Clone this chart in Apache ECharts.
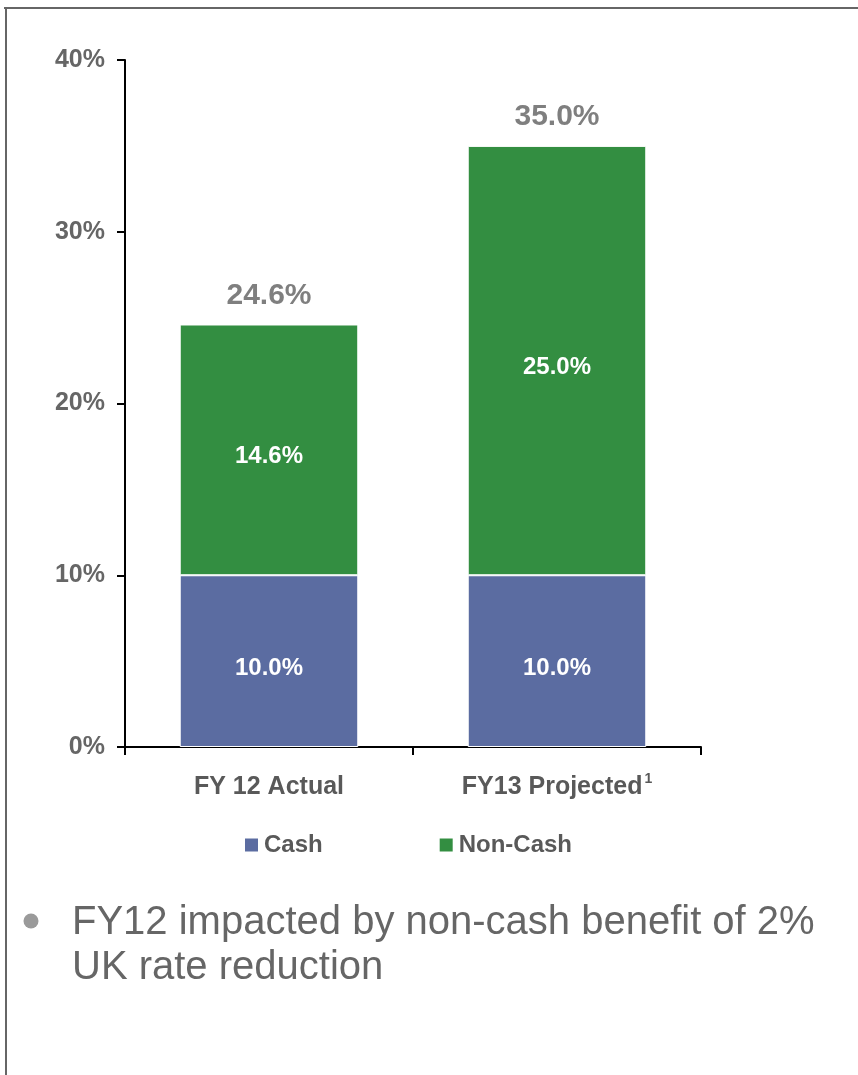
<!DOCTYPE html>
<html>
<head>
<meta charset="utf-8">
<script src="https://cdn.jsdelivr.net/npm/echarts@6/dist/echarts.min.js"></script>
<style>
html,body{margin:0;padding:0;background:#fff;}
#chart{width:858px;height:1075px;}
</style>
</head>
<body>
<div id="chart"></div>
<script>
var categories = ['FY 12 Actual', 'FY13 Projected'];
var cashValues = [10.0, 10.0];
var nonCashValues = [14.6, 25.0];
var yTicks = [0, 10, 20, 30, 40];
var seriesNames = ['Cash', 'Non-Cash'];
var bulletLines = ['FY12 impacted by non-cash benefit of 2%', 'UK rate reduction'];

var totals = categories.map(function (c, i) { return +(cashValues[i] + nonCashValues[i]).toFixed(1); });

var chart = echarts.init(document.getElementById('chart'), null, {renderer: 'canvas'});
var FONT = '"Liberation Sans", Arial, sans-serif';

var option = {
  animation: false,
  backgroundColor: '#ffffff',
  grid: {left: 125, right: 157, top: 60, bottom: 328, containLabel: false},
  legend: {
    data: seriesNames,
    left: 243, top: 833, padding: 0,
    itemWidth: 15, itemHeight: 15, itemGap: 115,
    icon: 'rect',
    textStyle: {fontFamily: FONT, fontSize: 24, fontWeight: 'bold', color: '#595959'}
  },
  xAxis: {
    type: 'category',
    data: categories,
    axisLine: {lineStyle: {color: '#000', width: 2}},
    axisTick: {show: true, length: 8, lineStyle: {color: '#000', width: 2}, alignWithLabel: false},
    axisLabel: {
      interval: 0,
      margin: 25,
      lineHeight: 30,
      fontFamily: FONT, fontSize: 25, fontWeight: 'bold', color: '#595959',
      formatter: function (v, i) { return i === 1 ? '{m|' + v + '}{sup|1}' : '{m|' + v + '}'; },
      rich: {
        m: {fontFamily: FONT, fontSize: 25, fontWeight: 'bold', color: '#595959', lineHeight: 30},
        sup: {fontFamily: FONT, fontSize: 14, color: '#595959', lineHeight: 14, verticalAlign: 'top', padding: [0, 0, 0, 2]}
      }
    }
  },
  yAxis: {
    type: 'value',
    min: yTicks[0], max: yTicks[yTicks.length - 1], interval: 10,
    axisLine: {show: true, lineStyle: {color: '#000', width: 2}},
    axisTick: {show: true, length: 8, lineStyle: {color: '#000', width: 2}},
    splitLine: {show: false},
    axisLabel: {
      margin: 20,
      fontFamily: FONT, fontSize: 25, fontWeight: 'bold', color: '#666666',
      formatter: function (v) { return v + '%'; }
    }
  },
  series: [
    {
      name: 'Cash', type: 'bar', stack: 'total', barWidth: '62%',
      data: cashValues,
      itemStyle: {color: '#5B6CA1', borderColor: '#ffffff', borderWidth: 1},
      label: {show: true, position: 'inside', offset: [0, 7], fontFamily: FONT, fontSize: 24, fontWeight: 'bold', color: '#ffffff',
        formatter: function (p) { return p.value.toFixed(1) + '%'; }}
    },
    {
      name: 'Non-Cash', type: 'bar', stack: 'total', barWidth: '62%',
      data: nonCashValues,
      itemStyle: {color: '#338E41', borderColor: '#ffffff', borderWidth: 1},
      label: {show: true, position: 'inside', offset: [0, 7], fontFamily: FONT, fontSize: 24, fontWeight: 'bold', color: '#ffffff',
        formatter: function (p) { return p.value.toFixed(1) + '%'; }}
    },
    {
      name: 'Total', type: 'bar', barWidth: '62%', barGap: '-100%',
      data: totals, silent: true,
      itemStyle: {color: 'rgba(0,0,0,0)'},
      label: {show: true, position: 'top', distance: 14, fontFamily: FONT, fontSize: 30, fontWeight: 'bold', color: '#7F7F7F',
        formatter: function (p) { return p.value.toFixed(1) + '%'; }},
      z: 1
    }
  ],
  graphic: [
    {type: 'line', shape: {x1: 4, y1: 8, x2: 858, y2: 8}, style: {stroke: '#666666', lineWidth: 2}},
    {type: 'line', shape: {x1: 6, y1: 8, x2: 6, y2: 1075}, style: {stroke: '#666666', lineWidth: 2}},
    {type: 'circle', shape: {cx: 31, cy: 921, r: 7.5}, style: {fill: '#9a9a9a'}},
    {type: 'text', x: 72, y: 923, style: {text: bulletLines[0], fontFamily: FONT, fontSize: 40, fill: '#666666', verticalAlign: 'middle'}},
    {type: 'text', x: 72, y: 968, style: {text: bulletLines[1], fontFamily: FONT, fontSize: 40, fill: '#666666', verticalAlign: 'middle'}}
  ]
};
chart.setOption(option);
</script>
</body>
</html>
